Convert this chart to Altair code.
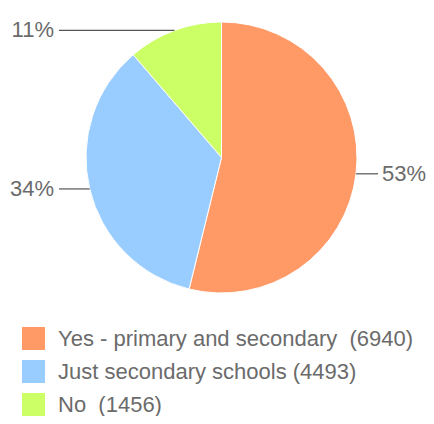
import altair as alt
import pandas as pd

categories = ["Yes - primary and secondary", "Just secondary schools", "No"]
legend_labels = ["Yes - primary and secondary\u00a0 (6940)", "Just secondary schools (4493)", "No\u00a0 (1456)"]
values = [6940, 4493, 1456]
colors = ["#FF9966", "#99CCFF", "#CCFF66"]

W, H = 418, 408
CX, CY, R = 213.5, 149.5, 135.5
FONT = "Liberation Sans"
GRAY = "#6b6b6b"

df = pd.DataFrame({
    "idx": list(range(len(categories))),
    "label": legend_labels,
    "value": values,
})

color_scale = alt.Scale(domain=legend_labels, range=colors)

base = alt.Chart(df)

pie = base.mark_arc(radius=R, stroke="white", strokeWidth=1).encode(
    x=alt.value(CX),
    y=alt.value(CY),
    theta=alt.Theta("value:Q", stack=True),
    order=alt.Order("idx:Q"),
    color=alt.Color(
        "label:N",
        scale=color_scale,
        sort=legend_labels,
        legend=alt.Legend(
            title=None,
            orient="none",
            legendX=14,
            legendY=319,
            padding=0,
            symbolType="square",
            symbolSize=529,
            symbolStrokeWidth=0,
            symbolOpacity=1,
            labelFont=FONT,
            labelFontSize=22,
            labelColor=GRAY,
            labelOffset=13,
            rowPadding=10,
            labelLimit=500,
        ),
    ),
)

calc = base.transform_joinaggregate(
    total="sum(value)"
).transform_window(
    cum="sum(value)", sort=[alt.SortField("idx")], frame=[None, 0]
).transform_calculate(
    mid="(datum.cum - datum.value/2)/datum.total*2*PI",
).transform_calculate(
    px=f"{CX} + {R}*sin(datum.mid)",
    py=f"{CY} - {R}*cos(datum.mid)",
    side="sin(datum.mid) >= 0 ? 1 : -1",
    pct="floor(datum.value/datum.total*100) + '%'",
).transform_calculate(
    ex=f"{CX} + datum.side*(datum.side > 0 ? {R + 21} : {R + 27})",
    tx=f"{CX} + datum.side*(datum.side > 0 ? {R + 25} : {R + 32})",
)

leaders = calc.mark_rule(color="#555555", strokeWidth=1.2).encode(
    x=alt.X("px:Q", scale=None, axis=None),
    x2="ex:Q",
    y=alt.Y("py:Q", scale=None, axis=None),
)

labels_right = calc.transform_filter("datum.side > 0").mark_text(
    align="left", baseline="middle", font=FONT, fontSize=22, color=GRAY
).encode(
    x=alt.X("tx:Q", scale=None, axis=None),
    y=alt.Y("py:Q", scale=None, axis=None),
    text="pct:N",
)

labels_left = calc.transform_filter("datum.side < 0").mark_text(
    align="right", baseline="middle", font=FONT, fontSize=22, color=GRAY
).encode(
    x=alt.X("tx:Q", scale=None, axis=None),
    y=alt.Y("py:Q", scale=None, axis=None),
    text="pct:N",
)

chart = alt.layer(pie, leaders, labels_right, labels_left).properties(
    width=W, height=H, padding=0, autosize=alt.AutoSizeParams(type="none")
).configure_view(stroke=None)

chart.save("out.html", embed_options={"renderer": "svg", "actions": False})
